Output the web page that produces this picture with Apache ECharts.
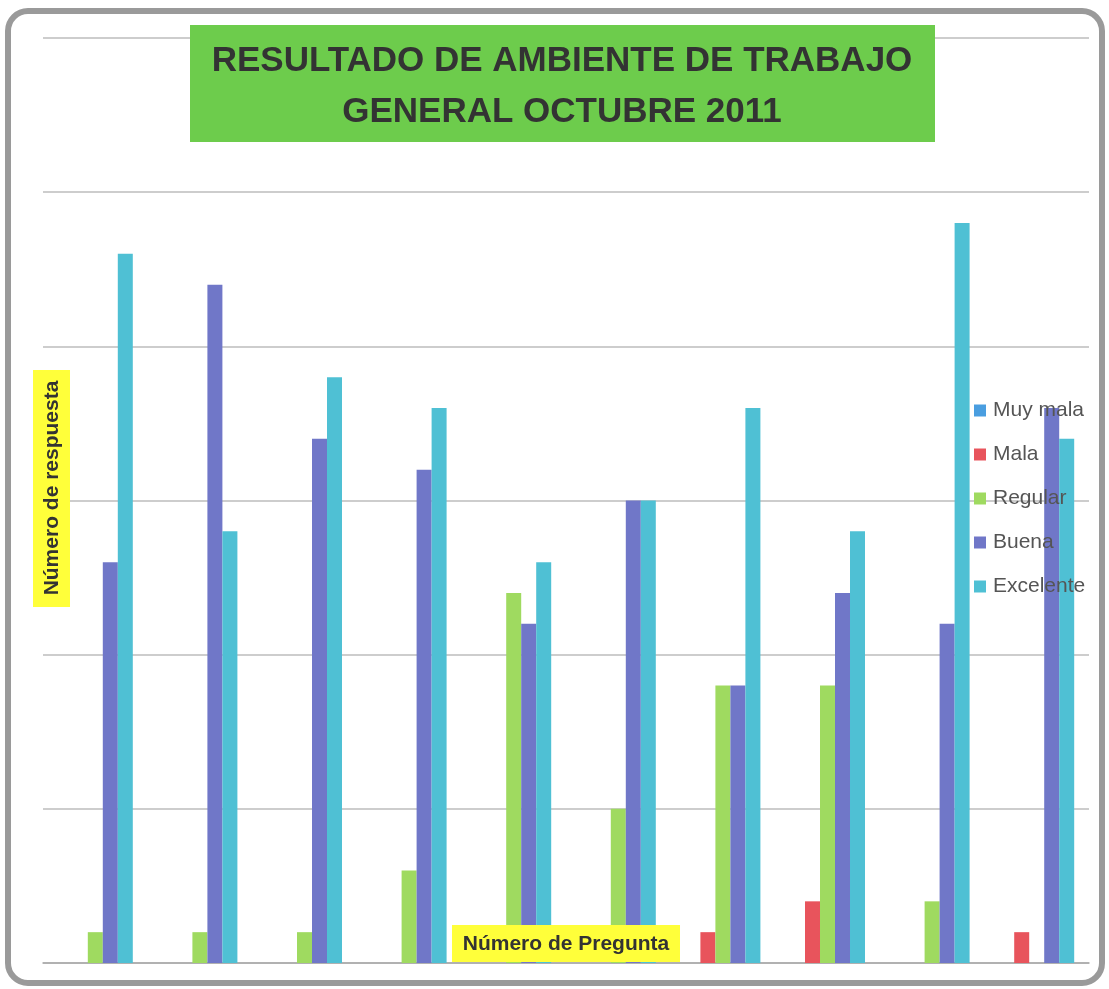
<!DOCTYPE html>
<html>
<head>
<meta charset="utf-8">
<script src="https://cdn.jsdelivr.net/npm/echarts@6/dist/echarts.min.js"></script>
<style>html,body{margin:0;padding:0;background:#fff;}#c{width:1109px;height:989px;}</style>
</head>
<body>
<div id="c"></div>
<script>
var categories = ['1','2','3','4','5','6','7','8','9','10'];
var seriesNames = ['Muy mala','Mala','Regular','Buena','Excelente'];
var muyMala   = [0,0,0,0,0,0,0,0,0,0];
var mala      = [0,0,0,0,0,0,1,2,0,1];
var regular   = [1,1,1,3,12,5,9,9,2,0];
var buena     = [13,22,17,16,11,15,9,12,11,18];
var excelente = [23,14,19,18,13,15,18,14,24,17];
var colors = ['#4a9ee0','#e8545c','#9fda60','#7077c8','#4fc0d4'];
var values = [muyMala, mala, regular, buena, excelente];

var chart = echarts.init(document.getElementById('c'));
var series = seriesNames.map(function(n,i){
  return {name:n,type:'bar',data:values[i],barWidth:15,barGap:'0%',itemStyle:{color:colors[i]},z:2};
});
chart.setOption({
  animation:false,
  backgroundColor:'#fff',
  grid:{left:43,right:20,top:38,bottom:26},
  xAxis:{type:'category',data:categories,axisLabel:{show:false},axisTick:{show:false},
    axisLine:{lineStyle:{color:'#a8a8a8',width:1.5}}},
  yAxis:{type:'value',min:0,max:30,interval:5,axisLabel:{show:false},axisLine:{show:false},axisTick:{show:false},
    splitLine:{lineStyle:{color:'#bdbdbd',width:1.5}}},
  legend:{orient:'vertical',left:969,top:395,itemWidth:12,itemHeight:12,itemGap:23,icon:'rect',
    data:seriesNames,textStyle:{fontSize:21,color:'#555',fontFamily:'Liberation Sans',padding:[0,0,0,2]},z:10},
  graphic:[
    {type:'rect',shape:{x:8,y:11,width:1094,height:972,r:20},style:{fill:'none',stroke:'#9a9a9a',lineWidth:6},z:100},
    {type:'rect',shape:{x:190,y:25,width:745,height:117},style:{fill:'#6dcc4c'},z:20},
    {type:'text',x:562,y:61,style:{text:'RESULTADO DE AMBIENTE DE TRABAJO',font:'bold 35px "Liberation Sans"',fill:'#333',textAlign:'center',textVerticalAlign:'middle'},z:21},
    {type:'text',x:562,y:112,style:{text:'GENERAL OCTUBRE 2011',font:'bold 35px "Liberation Sans"',fill:'#333',textAlign:'center',textVerticalAlign:'middle'},z:21},
    {type:'rect',shape:{x:33,y:370,width:37,height:237},style:{fill:'#ffff3a'},z:20},
    {type:'text',x:52,y:488,rotation:Math.PI/2,style:{text:'Número de respuesta',font:'bold 21px "Liberation Sans"',fill:'#333',textAlign:'center',textVerticalAlign:'middle'},z:21},
    {type:'rect',shape:{x:452,y:925,width:228,height:37},style:{fill:'#ffff3a'},z:20},
    {type:'text',x:566,y:944,style:{text:'Número de Pregunta',font:'bold 21px "Liberation Sans"',fill:'#333',textAlign:'center',textVerticalAlign:'middle'},z:21}
  ],
  series:series
});
</script>
</body>
</html>
